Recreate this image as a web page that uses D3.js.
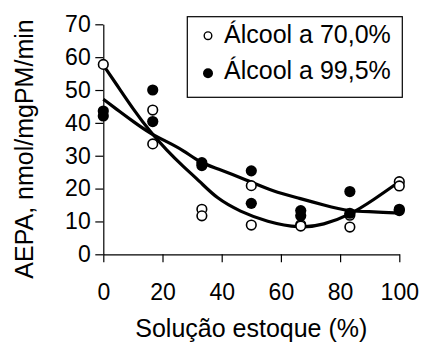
<!DOCTYPE html>
<html>
<head>
<meta charset="utf-8">
<script src="https://cdn.jsdelivr.net/npm/d3@7"></script>
<style>
  body { margin: 0; background: #fff; }
  svg { display: block; font-family: "Liberation Sans", Arial, sans-serif; }
</style>
</head>
<body>
<div id="chart"></div>
<script>
// data
var xTicks = [0, 20, 40, 60, 80, 100];
var yTicks = [0, 10, 20, 30, 40, 50, 60, 70];
var seriesNames = ["Álcool a 70,0%", "Álcool a 99,5%"];

// measured points: [solution %, activity]
var alc70 = [[0, 57.8], [16.7, 43.9], [16.7, 33.6], [33.3, 13.7], [33.3, 11.7],
             [50, 20.9], [50, 8.9], [66.7, 9.0], [66.7, 8.6], [83.3, 11.9], [83.3, 8.3],
             [100, 22.1], [100, 20.8]];
var alc995 = [[0, 43.6], [0, 42.1], [16.7, 50.0], [16.7, 40.4], [33.3, 27.9], [33.3, 27.0],
              [50, 25.4], [50, 15.5], [66.7, 13.3], [66.7, 11.7], [83.3, 19.1], [83.3, 12.5],
              [100, 13.7], [100, 13.3]];

// trend curves
var fit70 = [[0, 57.6], [5.6, 50.2], [10.1, 44.2], [15.8, 37.3], [21.4, 31.7], [27.0, 26.7],
             [32.7, 22.1], [38.3, 17.0], [46.2, 13.0], [55.2, 9.9], [66.5, 7.9], [74.3, 8.9],
             [83.3, 12.0], [91.2, 16.5], [100, 22.1]];
var fit995 = [[0, 47.2], [5.6, 43.4], [10.1, 40.4], [15.8, 36.8], [21.4, 34.3], [27.0, 31.7],
              [32.7, 27.9], [38.3, 26.2], [48.4, 22.6], [57.4, 19.1], [66.5, 17.0], [74.3, 15.0],
              [83.3, 13.0], [91.2, 13.0], [100, 12.5]];

function init() {
    var w = 422, h = 343;

    var svg = d3.select("#chart").append("svg")
                .attr("width", w)
                .attr("height", h);

    var x = d3.scaleLinear().domain([0, 100]).range([103.3, 399.3]);
    var y = d3.scaleLinear().domain([0, 70]).range([254.3, 24.3]);

    //axes
    var xAxis = svg.append("g")
        .attr("transform", "translate(0," + y(0) + ")")
        .call(d3.axisBottom(x).tickValues(xTicks).tickSize(8).tickSizeOuter(0));
    xAxis.selectAll("text")
        .attr("dy", null)
        .attr("y", 45.7)
        .style("font-size", "23px")
        .attr("fill", "#000");

    var yAxis = svg.append("g")
        .attr("transform", "translate(" + x(0) + ",0)")
        .call(d3.axisLeft(y).tickValues(yTicks).tickSize(8).tickSizeOuter(0));
    yAxis.selectAll("text")
        .attr("x", -12.6)
        .style("font-size", "23px")
        .attr("fill", "#000");

    svg.selectAll(".domain, .tick line")
        .attr("stroke", "#000")
        .attr("stroke-width", 1.2);

    //axis titles
    svg.append("text")
        .attr("x", 251.3)
        .attr("y", 336.5)
        .attr("text-anchor", "middle")
        .style("font-size", "25px")
        .text("Solução estoque (%)");

    svg.append("text")
        .attr("transform", "translate(32.5,149) rotate(-90)")
        .attr("text-anchor", "middle")
        .style("font-size", "25px")
        .text("AEPA, nmol/mgPM/min");

    //trend lines
    var line = d3.line()
        .x(function(d) { return x(d[0]); })
        .y(function(d) { return y(d[1]); })
        .curve(d3.curveBasis);

    svg.selectAll("path.fit")
        .data([fit70, fit995])
        .enter()
        .append("path")
        .attr("class", "fit")
        .attr("d", line)
        .attr("fill", "none")
        .attr("stroke", "#000")
        .attr("stroke-width", 3.2)
        .attr("stroke-linejoin", "round");

    //points
    svg.selectAll("circle.open")
        .data(alc70)
        .enter()
        .append("circle")
        .attr("class", "open")
        .attr("cx", function(d) { return x(d[0]); })
        .attr("cy", function(d) { return y(d[1]); })
        .attr("r", 4.8)
        .attr("fill", "#fff")
        .attr("stroke", "#000")
        .attr("stroke-width", 1.6);

    svg.selectAll("circle.filled")
        .data(alc995)
        .enter()
        .append("circle")
        .attr("class", "filled")
        .attr("cx", function(d) { return x(d[0]); })
        .attr("cy", function(d) { return y(d[1]); })
        .attr("r", 5.6)
        .attr("fill", "#000");

    //legend
    var legend = svg.append("g");
    legend.append("rect")
        .attr("x", 187.3)
        .attr("y", 16.7)
        .attr("width", 215)
        .attr("height", 80.6)
        .attr("fill", "#fff")
        .attr("stroke", "#000")
        .attr("stroke-width", 1.2);

    legend.append("circle")
        .attr("cx", 208).attr("cy", 35.7).attr("r", 3.8)
        .attr("fill", "#fff").attr("stroke", "#000").attr("stroke-width", 1.4);
    legend.append("circle")
        .attr("cx", 208).attr("cy", 73.3).attr("r", 5)
        .attr("fill", "#000");

    legend.selectAll("text")
        .data(seriesNames)
        .enter()
        .append("text")
        .attr("x", 224)
        .attr("y", function(d, i) { return i === 0 ? 43.3 : 79; })
        .style("font-size", "25px")
        .text(function(d) { return d; });
}

window.onload = init;
</script>
</body>
</html>
